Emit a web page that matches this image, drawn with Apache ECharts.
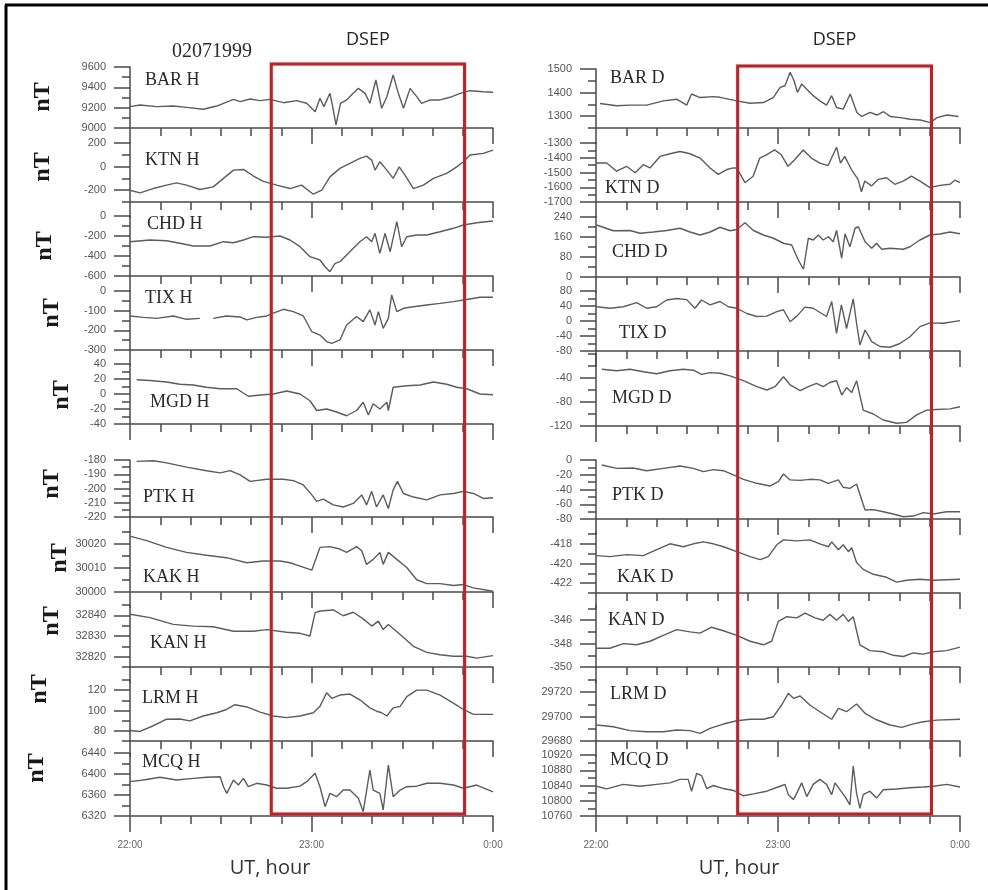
<!DOCTYPE html>
<html>
<head>
<meta charset="utf-8">
<title>DSEP 02071999</title>
<script src="https://cdn.jsdelivr.net/npm/echarts@6/dist/echarts.min.js"></script>
<style>
  html, body { margin: 0; padding: 0; background: #fff; }
  #chart { width: 988px; height: 890px; }
</style>
</head>
<body>
<div id="chart"></div>
<script>
// tiempo en minutos desde 22:00 UT (02.07.1999)
const xTickLabels = ['22:00', '23:00', '0:00'];
const dsepStart = 46.7; // inicio del intervalo DSEP
const dsepEnd = 110.6;  // fin del intervalo DSEP

// componente H
const barH = [[0,9210],[3.3,9226],[8.8,9210],[14.3,9216],[18.7,9203],[24.2,9184],[28.7,9216],[30.9,9243],[34.2,9282],[36.4,9259],[39.7,9285],[43,9269],[46.3,9282],[50.7,9249],[55.1,9269],[58.4,9243],[61.2,9160],[62.8,9292],[64.1,9210],[66.1,9341],[67,9210],[68.1,9030],[69.6,9243],[71.6,9276],[73.8,9341],[75.5,9390],[77.7,9341],[79.3,9243],[81.3,9472],[83.2,9194],[84.9,9308],[87,9522],[88.7,9341],[90.4,9194],[92.6,9390],[94.8,9308],[96.4,9243],[99.2,9276],[102.5,9276],[105.8,9302],[109.1,9341],[112.4,9367],[116.8,9357],[120,9351]];
const ktnH = [[0,-200],[3.3,-223],[7.7,-186],[12.1,-157],[15.4,-138],[18.7,-157],[23.1,-194],[27.5,-172],[30.9,-100],[34.2,-30],[37.5,-24],[40.8,-80],[44.1,-125],[48.5,-157],[52.9,-186],[56.7,-157],[60.6,-234],[63.4,-200],[66.1,-87],[69.4,-15],[72.7,27],[76,70],[78.2,89],[79.9,55],[81,-30],[82.6,41],[84.9,-30],[87,-100],[89,-2],[90.9,-72],[93.7,-186],[97,-157],[100.3,-100],[104.7,-58],[108,-2],[110.2,41],[112.4,98],[116.8,112],[120,140]];
const chdH = [[0,-257],[6.6,-240],[12.1,-247],[16.5,-273],[20.9,-300],[26.4,-300],[30.9,-257],[34.2,-267],[37.5,-240],[40.8,-207],[45.2,-213],[49.6,-200],[52.9,-240],[56.2,-307],[59.5,-407],[62.8,-440],[64.5,-507],[66.1,-557],[67.8,-473],[69.4,-457],[71.6,-390],[73.8,-323],[76,-257],[78.2,-207],[79.9,-257],[81,-173],[82.6,-373],[84.3,-173],[86,-357],[88.2,-57],[89.8,-307],[91.5,-207],[94.8,-190],[98.1,-190],[102.5,-157],[106.9,-123],[110.2,-90],[114.6,-67],[120,-50]];
const tixH = [[0,-127],[4.4,-134],[8.8,-139],[14.3,-127],[18.7,-144],[23.1,-139],[25.5,null],[27.5,-139],[31.9,-127],[36.4,-132],[38.6,-147],[41.9,-134],[45.2,-127],[47.4,-113],[50.7,-93],[54,-105],[57.3,-127],[60.1,-207],[62.8,-224],[65,-257],[66.7,-266],[69.4,-249],[71.6,-173],[74.9,-130],[77.1,-156],[79.3,-96],[81,-173],[82.1,-105],[83.7,-190],[85.4,-139],[86.5,-20],[88.2,-105],[90.4,-88],[93.7,-80],[98.1,-71],[102.5,-63],[106.9,-54],[111.3,-43],[115.7,-32],[120,-32]];
const mgdH = [[2.2,19],[6.6,18],[12.1,16],[16.5,13],[20.9,12],[25.3,9],[29.8,7],[35.3,7],[39.1,-3],[44.1,-1],[47.4,0],[51.8,4],[56.2,0],[59.5,-9],[61.7,-22],[65,-20],[68.3,-24],[71.6,-29],[74.9,-22],[77.1,-11],[78.8,-28],[80.4,-13],[82.6,-20],[84.9,-11],[85.4,-22],[87,9],[91.5,11],[95.9,12],[100.3,16],[104.7,13],[108,9],[111.3,7],[115.7,0],[120,-1]];
const ptkH = [[2.2,-181],[7.7,-180.5],[12.1,-182],[18.7,-185],[25.3,-187.5],[29.8,-189],[33.1,-187.5],[36.4,-190.5],[39.7,-195],[45.2,-193.5],[50.7,-193.5],[54,-194.5],[57.3,-197.5],[60.1,-204.5],[61.7,-209],[63.9,-207.5],[67.2,-211.5],[70.5,-213],[73.8,-210.5],[76.6,-204.5],[78.2,-211.5],[79.9,-202],[81.5,-213],[83.7,-204.5],[85.4,-214],[87,-201],[88.4,-195],[90.4,-203.5],[93.7,-206],[98.1,-208],[102.5,-204.5],[106.9,-203.5],[110.2,-202],[113.5,-203.5],[116.8,-207],[120,-206.5]];
const kakH = [[0,30023.3],[5.5,30021.4],[12.1,30018.6],[18.7,30016.5],[25.3,30015.3],[31.9,30014.3],[38.6,30012.2],[44.1,30012.9],[49.6,30012.9],[52.9,30012.2],[56.2,30010.8],[60.1,30009.1],[61.2,30012.9],[62.8,30018.6],[66.1,30018.9],[69.4,30017.9],[71.6,30016.5],[74.9,30018.9],[76.6,30017.2],[78.2,30011.5],[80.4,30013.6],[82.6,30016.5],[83.7,30011.5],[85.4,30016.5],[88.2,30013.6],[91.5,30010.2],[94.8,30005.1],[98.1,30003.5],[102.5,30003.5],[106.9,30002.7],[110.2,30003.1],[113.5,30001.7],[120,30000.3]];
const kanH = [[0,32840.5],[6.6,32838.9],[14.3,32835.6],[20.9,32834.8],[27.5,32834.5],[34.2,32832.3],[40.8,32832.3],[45.2,32833.1],[51.8,32831.8],[56.2,32831.3],[59.5,32830],[61.2,32841.3],[62.8,32842.1],[67.2,32842.6],[70.5,32839.8],[73.8,32841.5],[77.1,32838.3],[79.9,32834.8],[82.1,32837.2],[83.7,32833.1],[85.4,32835.6],[89.3,32830.7],[93.7,32825],[98.1,32822.1],[102.5,32820.9],[106.9,32820.2],[111.3,32820.2],[114.6,32819.3],[120,32820.5]];
const lrmH = [[0,80.3],[3.3,79.4],[7.7,85],[12.1,91.4],[16.5,91.7],[19.8,89.8],[24.2,94.6],[28.7,97.8],[31.9,101],[34.7,105.7],[38.6,103.5],[43,98.4],[47.4,94.6],[51.8,93],[56.2,94.6],[60.6,97.8],[62.8,104.1],[65,117.4],[66.7,112],[69.4,115.2],[72.7,116.2],[76,110.5],[79.3,102.6],[81.5,99.3],[83.2,97.8],[84.9,94.6],[87,102.6],[89.3,104.1],[91.5,113.6],[94.8,120],[98.1,120],[102.5,115.2],[106.9,107.3],[110.2,101],[113.5,96.2],[120,96.2]];
const mcqH = [[0,6385.4],[4.4,6388.6],[9.9,6393.7],[15.4,6388.6],[20.9,6391.7],[25.3,6393.7],[29.8,6394.9],[30.9,6375.8],[32,6363.2],[34.2,6388.6],[35.8,6379],[37.5,6391.7],[39.1,6375.8],[41.9,6382.3],[45.2,6379],[48.5,6372.8],[51.8,6372.8],[56.2,6376.8],[58.4,6385.4],[61.2,6401.3],[62.8,6375.8],[64.5,6337.8],[66.1,6363.2],[68.3,6356.8],[70.5,6369.5],[72.7,6369.5],[75.5,6353.7],[77.1,6328.2],[79.3,6407.6],[80.4,6369.5],[82.6,6363.2],[83.7,6331.4],[85.4,6417.2],[87,6356.8],[89.3,6369.5],[91.5,6375.8],[94.8,6376.8],[98.1,6382.3],[102.5,6382.3],[106.9,6379],[110.2,6372.8],[114.6,6379],[120,6366.1]];

// componente D
const barD = [[1.3,1354],[6.8,1344],[11.2,1347],[16.7,1347],[22.2,1365],[26.6,1372],[29.9,1347],[31.5,1394],[34.3,1379],[38.7,1383],[40.9,1380],[46.4,1365],[50.8,1355],[55.2,1358],[58.5,1380],[60.7,1422],[62.3,1429],[64,1486],[65.3,1450],[66.4,1401],[67.8,1436],[69.4,1415],[71.6,1387],[73.8,1365],[76,1347],[77.7,1387],[79.3,1337],[81.5,1330],[83.8,1394],[86,1316],[87.6,1299],[90.4,1316],[92.6,1305],[94.8,1319],[97,1299],[100.3,1294],[103.6,1287],[106.9,1284],[110.2,1273],[112.4,1294],[115.7,1305],[119.5,1299]];
const ktnD = [[0,-1436],[3.5,-1436],[6.8,-1491],[10.1,-1458],[12.9,-1502],[15.6,-1447],[17.8,-1469],[21.1,-1391],[24.4,-1373],[27.7,-1358],[31,-1373],[34.3,-1402],[37.6,-1469],[40.3,-1513],[43.1,-1480],[45.3,-1469],[46.4,-1469],[49.1,-1569],[51.8,-1525],[54,-1402],[56.2,-1380],[58.9,-1347],[61.1,-1380],[63.3,-1458],[65.5,-1413],[68.3,-1347],[71,-1402],[73.8,-1436],[76.5,-1453],[79.3,-1329],[80.6,-1436],[82,-1391],[84.2,-1480],[86.4,-1547],[87.5,-1631],[88.6,-1558],[90.8,-1591],[93,-1547],[95.8,-1536],[98.5,-1580],[101.3,-1558],[104,-1525],[106.8,-1558],[110.1,-1602],[113.4,-1587],[116.7,-1580],[118.3,-1552],[120,-1569]];
const chdD = [[0.2,208],[5.7,185],[11.2,186],[14.5,175],[18.9,180],[23.3,186],[27.7,195],[31,180],[34.3,168],[37.6,180],[40.9,199],[44.2,185],[46.4,190],[49.1,217],[51.9,186],[55.2,168],[58.5,155],[61.8,135],[64.5,128],[66.7,68],[68.4,31],[70,155],[71.6,148],[73.3,168],[74.9,148],[76.6,161],[78.2,141],[79.3,186],[81,75],[82.1,173],[83.7,121],[85.4,195],[86.5,201],[88.7,141],[90.9,115],[92.5,135],[94.2,111],[96.9,115],[101.3,111],[103.5,121],[106.8,148],[110.1,168],[113.4,172],[116.7,180],[120,173]];
const tixD = [[0.2,38],[4.6,34],[9,38],[13.4,49],[16.7,34],[20,38],[23.3,56],[26.6,60],[29.9,57],[32.6,34],[34.8,56],[37.6,43],[40.9,52],[43.6,38],[46.4,34],[49.7,20],[53,12],[56.3,13],[59.6,25],[61.8,30],[64,-2],[66.2,13],[68.9,37],[71.6,34],[74.4,20],[76,12],[77.7,52],[79.3,-33],[80.9,43],[82.6,-20],[84.8,59],[85.9,-6],[87,-64],[88.7,-24],[90.9,-55],[93.6,-68],[96.9,-70],[100.2,-60],[103.5,-42],[106.8,-15],[110.1,-5],[114.5,-6],[120,1]];
const mgdD = [[1.9,-25.5],[6.8,-28],[11.2,-25.5],[15.6,-29.5],[20,-33],[24.4,-28],[28.8,-25.5],[32.1,-27],[34.8,-34],[37.6,-31],[40.9,-32],[44.2,-36.5],[48.6,-44.5],[53,-54.5],[56.3,-60],[59,-54.5],[61.8,-38],[64,-51.5],[67.3,-61],[70,-54.5],[72.7,-49],[74.9,-54.5],[77.1,-47.5],[79.3,-44.5],[81,-68.5],[82.6,-56],[84.3,-64],[85.9,-44.5],[88.1,-93.5],[91.4,-100],[94.7,-110],[99.1,-115.5],[102.4,-114],[105.7,-101.5],[109,-93.5],[112.3,-92.5],[116.7,-91.5],[120,-88]];
const ptkD = [[1.9,-6.8],[6.8,-11.3],[12.3,-10.8],[16.7,-14.5],[22.2,-11.3],[27.7,-8.1],[32.1,-11.3],[35.4,-15.8],[38.7,-13],[42,-14.5],[45.3,-20.3],[48.6,-26.2],[53,-31.6],[57.4,-35.2],[60.1,-29.4],[61.8,-19],[64,-27],[67.3,-27.6],[70.5,-26.2],[73.8,-27],[76.6,-31.6],[78.2,-29.4],[79.9,-27],[81.5,-37],[83.7,-38.4],[85.9,-32.5],[87.6,-54.2],[88.7,-67.8],[91.4,-67.3],[94.7,-70.1],[98,-73.2],[101.3,-76.9],[104.6,-76],[107.9,-71.4],[111.2,-73.2],[115.6,-70.1],[120,-70.1]];
const kakD = [[0.2,-419.2],[4.6,-419.3],[10.1,-419.1],[15.6,-419.2],[20,-418.6],[24.4,-418],[28.8,-418.3],[32.1,-418],[35.4,-417.8],[38.7,-418],[42,-418.3],[46.4,-418.8],[50.8,-419.3],[54.1,-419.6],[56.8,-419.3],[59.6,-418.1],[61.8,-417.6],[66.2,-417.7],[70.5,-417.6],[73.8,-418],[76.6,-418.3],[77.7,-417.8],[79.9,-418.6],[81.5,-418.1],[83.2,-418.8],[84.3,-418.4],[85.9,-419.9],[88.1,-420.6],[91.4,-421.1],[95.8,-421.4],[99.1,-421.9],[102.4,-421.7],[106.8,-421.6],[111.2,-421.7],[120,-421.6]];
const kanD = [[0.2,-348.4],[4.6,-348.4],[9,-348],[13.4,-348.1],[17.8,-347.8],[22.2,-347.3],[26.6,-346.8],[31,-347],[34.3,-347.1],[38.1,-346.6],[42,-346.9],[46.4,-347.3],[50.8,-347.8],[55.2,-348.1],[57.9,-347.8],[60.1,-346.1],[62.9,-345.7],[66.2,-345.8],[68.9,-345.4],[72.2,-345.8],[74.9,-346],[77.1,-345.5],[79.3,-346],[81.5,-345.5],[83.2,-346.1],[84.8,-345.7],[87,-348.1],[90.3,-348.6],[94.7,-348.7],[98,-349],[101.3,-349.1],[104.6,-348.8],[107.9,-348.9],[111.2,-348.7],[115.6,-348.6],[120,-348.3]];
const lrmD = [[0.2,29693.1],[5.7,29691.7],[11.2,29688.5],[16.7,29687.6],[22.2,29687.6],[26.6,29689],[31,29688.5],[34.3,29686.3],[37.6,29690.4],[42,29693.9],[46.4,29696.6],[50.8,29697.8],[55.2,29697.8],[58.5,29699.9],[61.2,29709.5],[63.4,29719.1],[65.1,29715],[67.3,29716.9],[70.5,29709.5],[73.8,29704],[77.7,29697.8],[79.9,29706.8],[82.6,29704],[85.9,29710.3],[88.7,29702.7],[92.5,29697.4],[96.9,29693.1],[100.8,29691.2],[104.6,29694],[107.9,29695.8],[112.3,29697.1],[120,29697.8]];
const mcqD = [[0.2,10838],[3.5,10831],[9,10843],[14.5,10838],[20,10843],[24.4,10847],[27.7,10856],[30.4,10856],[31.5,10825],[33.2,10872],[34.8,10866],[36.5,10832],[38.7,10840],[42,10832],[45.3,10827],[48.6,10813],[51.9,10818],[56.3,10825],[60.7,10838],[62.3,10843],[63.4,10816],[65.1,10803],[66.2,10820],[67.8,10847],[69.5,10811],[71.6,10843],[73.8,10856],[76,10843],[77.7,10816],[78.8,10847],[80.4,10829],[82.1,10811],[83.7,10789],[84.8,10891],[85.9,10820],[87,10780],[88.1,10816],[90.3,10825],[92.5,10807],[94.7,10829],[99.1,10831],[103.5,10834],[107.9,10836],[111.2,10838],[115.6,10843],[120,10836]];

// etiquetas de los ejes y
const barHTicks = [9000, 9200, 9400, 9600];
const ktnHTicks = [-200, 0, 200];
const chdHTicks = [-600, -400, -200, 0];
const tixHTicks = [-300, -200, -100, 0];
const mgdHTicks = [-40, -20, 0, 20, 40];
const ptkHTicks = [-220, -210, -200, -190, -180];
const kakHTicks = [30000, 30010, 30020];
const kanHTicks = [32820, 32830, 32840];
const lrmHTicks = [80, 100, 120];
const mcqHTicks = [6320, 6360, 6400, 6440];
const barDTicks = [1300, 1400, 1500];
const ktnDTicks = [-1700, -1600, -1500, -1400, -1300];
const chdDTicks = [0, 80, 160, 240];
const tixDTicks = [-80, -40, 0, 40, 80];
const mgdDTicks = [-120, -80, -40];
const ptkDTicks = [-80, -60, -40, -20, 0];
const kakDTicks = [-422, -420, -418];
const kanDTicks = [-350, -348, -346];
const lrmDTicks = [29680, 29700, 29720];
const mcqDTicks = [10760, 10800, 10840, 10880, 10920];

// disposición de los paneles
const panels = [
  { name: 'BAR H', col: 0, data: barH, top: 67, bottom: 128, min: 9000, max: 9600, ticks: barHTicks, step: 100, nameAt: [145, 80], nT: [43, 97] },
  { name: 'KTN H', col: 0, data: ktnH, top: 143, bottom: 202, min: -300, max: 200, ticks: ktnHTicks, step: 100, nameAt: [145, 160], nT: [43, 167] },
  { name: 'CHD H', col: 0, data: chdH, top: 216, bottom: 276, min: -600, max: 0, ticks: chdHTicks, step: 100, nameAt: [147, 224], nT: [45, 246] },
  { name: 'TIX H', col: 0, data: tixH, top: 291, bottom: 350, min: -300, max: 0, ticks: tixHTicks, step: 50, nameAt: [145, 298], nT: [52, 313] },
  { name: 'MGD H', col: 0, data: mgdH, top: 364, bottom: 424, min: -40, max: 40, ticks: mgdHTicks, step: 10, nameAt: [150, 402], nT: [62, 395] },
  { name: 'PTK H', col: 0, data: ptkH, top: 460, bottom: 517, min: -220, max: -180, ticks: ptkHTicks, step: 5, nameAt: [143, 497], nT: [52, 484] },
  { name: 'KAK H', col: 0, data: kakH, top: 532, bottom: 592, min: 30000, max: 30025, ticks: kakHTicks, step: 5, nameAt: [143, 577], nT: [60, 558] },
  { name: 'KAN H', col: 0, data: kanH, top: 605, bottom: 667, min: 32815, max: 32845, ticks: kanHTicks, step: 5, nameAt: [150, 643], nT: [52, 621] },
  { name: 'LRM H', col: 0, data: lrmH, top: 680, bottom: 741, min: 70, max: 130, ticks: lrmHTicks, step: 10, nameAt: [142, 698], nT: [40, 689] },
  { name: 'MCQ H', col: 0, data: mcqH, top: 753, bottom: 816, min: 6320, max: 6440, ticks: mcqHTicks, step: 20, nameAt: [142, 762], nT: [37, 768] },
  { name: 'BAR D', col: 1, data: barD, top: 69, bottom: 128, min: 1250, max: 1500, ticks: barDTicks, step: 50, nameAt: [610, 78] },
  { name: 'KTN D', col: 1, data: ktnD, top: 143, bottom: 202, min: -1700, max: -1300, ticks: ktnDTicks, step: 50, nameAt: [605, 188] },
  { name: 'CHD D', col: 1, data: chdD, top: 217, bottom: 277, min: 0, max: 240, ticks: chdDTicks, step: 40, nameAt: [612, 252] },
  { name: 'TIX D', col: 1, data: tixD, top: 291, bottom: 351, min: -80, max: 80, ticks: tixDTicks, step: 20, nameAt: [619, 333] },
  { name: 'MGD D', col: 1, data: mgdD, top: 354, bottom: 426, min: -120, max: 0, ticks: mgdDTicks, step: 20, nameAt: [612, 398] },
  { name: 'PTK D', col: 1, data: ptkD, top: 460, bottom: 519, min: -80, max: 0, ticks: ptkDTicks, step: 10, nameAt: [612, 495] },
  { name: 'KAK D', col: 1, data: kakD, top: 532, bottom: 593, min: -423, max: -416.8, ticks: kakDTicks, step: 1, nameAt: [617, 577] },
  { name: 'KAN D', col: 1, data: kanD, top: 605, bottom: 667, min: -350, max: -344.7, ticks: kanDTicks, step: 1, nameAt: [608, 620] },
  { name: 'LRM D', col: 1, data: lrmD, top: 680, bottom: 741, min: 29680, max: 29730, ticks: lrmDTicks, step: 10, nameAt: [610, 694] },
  { name: 'MCQ D', col: 1, data: mcqD, top: 755, bottom: 816, min: 10760, max: 10920, ticks: mcqDTicks, step: 20, nameAt: [610, 760] }
];

const colLeft = [130, 596];
const colWidth = [363, 364];
const axisColor = '#4a4a4a';
const lineColor = '#5c5c5c';
const boxColor = '#b3262c';
const axisLineStyle = { color: axisColor, width: 1.5 };

const grid = [], xAxis = [], yAxis = [], series = [], graphic = [];

panels.forEach((p, i) => {
  const isBottom = i === 9 || i === 19;
  grid.push({
    left: colLeft[p.col], width: colWidth[p.col],
    top: p.top, height: p.bottom - p.top,
    containLabel: false, outerBoundsMode: 'none'
  });
  xAxis.push({
    type: 'value', gridIndex: i, min: 0, max: 120, interval: 60,
    axisLine: { show: true, onZero: false, lineStyle: axisLineStyle },
    axisTick: { show: true, inside: false, length: 16, lineStyle: axisLineStyle },
    minorTick: { show: true, splitNumber: 6, length: 8, lineStyle: axisLineStyle },
    splitLine: { show: false },
    minorSplitLine: { show: false },
    axisLabel: {
      show: isBottom, margin: 24, color: '#666', fontSize: 10, fontFamily: 'Liberation Sans',
      formatter: v => xTickLabels[Math.round(v / 60)]
    }
  });
  // marcas menores
  const minor = [];
  for (let k = Math.ceil(p.min / p.step); k * p.step <= p.max + 1e-9; k++) minor.push(k * p.step);
  yAxis.push({
    type: 'value', gridIndex: i, position: 'left', min: p.min, max: p.max,
    axisLine: { show: true, onZero: false, lineStyle: axisLineStyle },
    axisTick: { show: true, inside: false, length: 16, customValues: p.ticks, lineStyle: axisLineStyle },
    axisLabel: { customValues: p.ticks, margin: 24, color: '#555', fontSize: 11, fontFamily: 'Liberation Sans', formatter: v => String(v) },
    splitLine: { show: false }
  });
  yAxis.push({
    type: 'value', gridIndex: i, position: 'left', min: p.min, max: p.max,
    axisLine: { show: false, onZero: false },
    axisTick: { show: true, inside: false, length: 8, customValues: minor, lineStyle: axisLineStyle },
    axisLabel: { show: false },
    splitLine: { show: false }
  });
  series.push({
    type: 'line', name: p.name, xAxisIndex: i, yAxisIndex: 2 * i,
    data: p.data, showSymbol: false, symbol: 'none', connectNulls: false,
    lineStyle: { color: lineColor, width: 1.4 }, silent: true
  });
  graphic.push({
    type: 'text', x: p.nameAt[0], y: p.nameAt[1], silent: true,
    style: { text: p.name, fill: '#2a2a2a', font: '18px "Liberation Serif"', textVerticalAlign: 'middle' }
  });
  if (p.nT) {
    graphic.push({
      type: 'text', x: p.nT[0], y: p.nT[1], rotation: Math.PI / 2, silent: true,
      style: { text: 'nT', fill: '#1a1a1a', font: 'bold 24px "Liberation Serif"', textAlign: 'center', textVerticalAlign: 'middle' }
    });
  }
});

const myChart = echarts.init(document.getElementById('chart'));
myChart.setOption({
  animation: false,
  backgroundColor: '#fff',
  grid, xAxis, yAxis, series
});

// recuadros DSEP a partir de las escalas
[0, 10].forEach(first => {
  const last = first + 9;
  const x0 = myChart.convertToPixel({ xAxisIndex: first }, dsepStart);
  const x1 = myChart.convertToPixel({ xAxisIndex: first }, dsepEnd);
  const y0 = myChart.convertToPixel({ yAxisIndex: 2 * first }, panels[first].max) - 3;
  const y1 = myChart.convertToPixel({ yAxisIndex: 2 * last }, panels[last].min) - 2;
  graphic.push({
    type: 'rect', silent: true, z: 10,
    shape: { x: x0, y: y0, width: x1 - x0, height: y1 - y0 },
    style: { fill: null, stroke: boxColor, lineWidth: 3, shadowBlur: 2, shadowColor: 'rgba(230,120,120,0.5)' }
  });
  graphic.push({
    type: 'text', x: (x0 + x1) / 2, y: 40, silent: true,
    style: { text: 'DSEP', fill: '#222', font: '18px "Open Sans"', textAlign: 'center', textVerticalAlign: 'middle' }
  });
});

graphic.push(
  { type: 'text', x: 212, y: 52, silent: true,
    style: { text: '02071999', fill: '#2a2a2a', font: '20px "Liberation Serif"', textAlign: 'center', textVerticalAlign: 'middle' } },
  { type: 'text', x: 270, y: 868, silent: true,
    style: { text: 'UT, hour', fill: '#333', font: '20px "Open Sans"', textAlign: 'center', textVerticalAlign: 'middle' } },
  { type: 'text', x: 739, y: 868, silent: true,
    style: { text: 'UT, hour', fill: '#333', font: '20px "Open Sans"', textAlign: 'center', textVerticalAlign: 'middle' } },
  { type: 'line', silent: true, shape: { x1: 5, y1: 5, x2: 988, y2: 5 }, style: { stroke: '#000', lineWidth: 3 } },
  { type: 'line', silent: true, shape: { x1: 6, y1: 5, x2: 6, y2: 890 }, style: { stroke: '#000', lineWidth: 3 } }
);

myChart.setOption({ graphic });
window.addEventListener('resize', myChart.resize);
</script>
</body>
</html>
